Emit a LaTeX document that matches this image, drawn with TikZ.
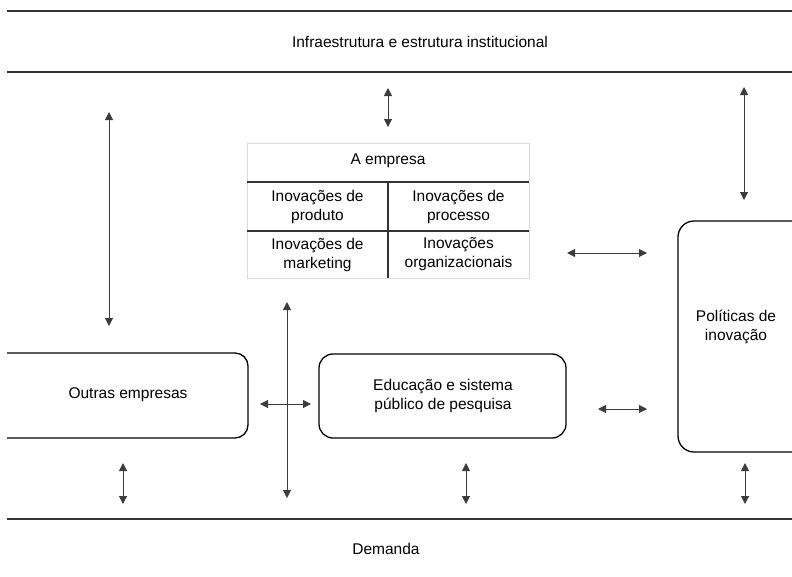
\documentclass[tikz,border=0pt]{standalone}
\usepackage{fontspec}
\setmainfont{Liberation Sans}
\usetikzlibrary{arrows.meta}
\definecolor{band}{HTML}{333333}
\definecolor{arrowgray}{HTML}{3C3C3C}
\definecolor{faint}{HTML}{DADADA}
\begin{document}
\begin{tikzpicture}[x=1pt,y=-1pt,
  every node/.style={font=\fontsize{15.5}{19}\selectfont, align=center, inner sep=0pt},
  bandline/.style={draw=band, line width=2.8pt},
  roundbox/.style={draw=black, line width=1.3pt, rounded corners=#1},
  biarrow/.style={draw=arrowgray, line width=1pt, {Triangle[length=8pt,width=8pt]}-{Triangle[length=8pt,width=8pt]}},
  gridline/.style={draw=band, line width=1.2pt},
  ]
\useasboundingbox (0,0) rectangle (792,576);
\begin{scope}
\clip (7,0) rectangle (792,576);

% horizontal bands
\draw[bandline] (7,11) -- (792,11);
\draw[bandline] (7,72) -- (792,72);
\draw[bandline] (7,519) -- (792,519);
\node (infra) at (420,42) {Infraestrutura e estrutura institucional};
\node (demanda) at (386,549) {Demanda};

% the firm: table of innovation types
\draw[faint, line width=0.8pt] (247,143) rectangle (529,278);
\draw[gridline] (247,182) -- (529,182);
\draw[gridline] (247,231) -- (529,231);
\draw[gridline] (388,182) -- (388,278);
\node (empresa) at (388,161) {A empresa};
\node (produto) at (317.5,206.5) {Inovações de\\produto};
\node (processo) at (458.5,206.5) {Inovações de\\processo};
\node (marketing) at (317.5,254.5) {Inovações de\\marketing};
\node (organiz) at (458.5,254.5) {Inovações\\organizacionais};

% rounded boxes
\draw[roundbox=13pt] (-10,353) rectangle (248,438);
\node (outras) at (128,395) {Outras empresas};
\draw[roundbox=14pt] (319,354) rectangle (566,438);
\node (educ) at (443,396) {Educação e sistema\\público de pesquisa};
\draw[roundbox=16pt] (678,221) rectangle (810,452);
\node (politicas) at (736,327) {Políticas de\\inovação};

% arrow end points
\coordinate (a1s) at (388,88);   \coordinate (a1e) at (388,127);
\coordinate (a2s) at (109,112);  \coordinate (a2e) at (109,326);
\coordinate (a3s) at (744,87);   \coordinate (a3e) at (744,200);
\coordinate (a4s) at (567,253);  \coordinate (a4e) at (647,253);
\coordinate (a5s) at (287,302);  \coordinate (a5e) at (287,498);
\coordinate (a6s) at (260,404);  \coordinate (a6e) at (311,404);
\coordinate (a7s) at (598,409);  \coordinate (a7e) at (647,409);
\coordinate (a8s) at (123,463);  \coordinate (a8e) at (123,504);
\coordinate (a9s) at (466,463);  \coordinate (a9e) at (466,504);
\coordinate (a10s) at (745,463); \coordinate (a10e) at (745,504);

\foreach \i in {1,...,10} {\draw[biarrow] (a\i s) -- (a\i e);}
\end{scope}
\end{tikzpicture}
\end{document}
